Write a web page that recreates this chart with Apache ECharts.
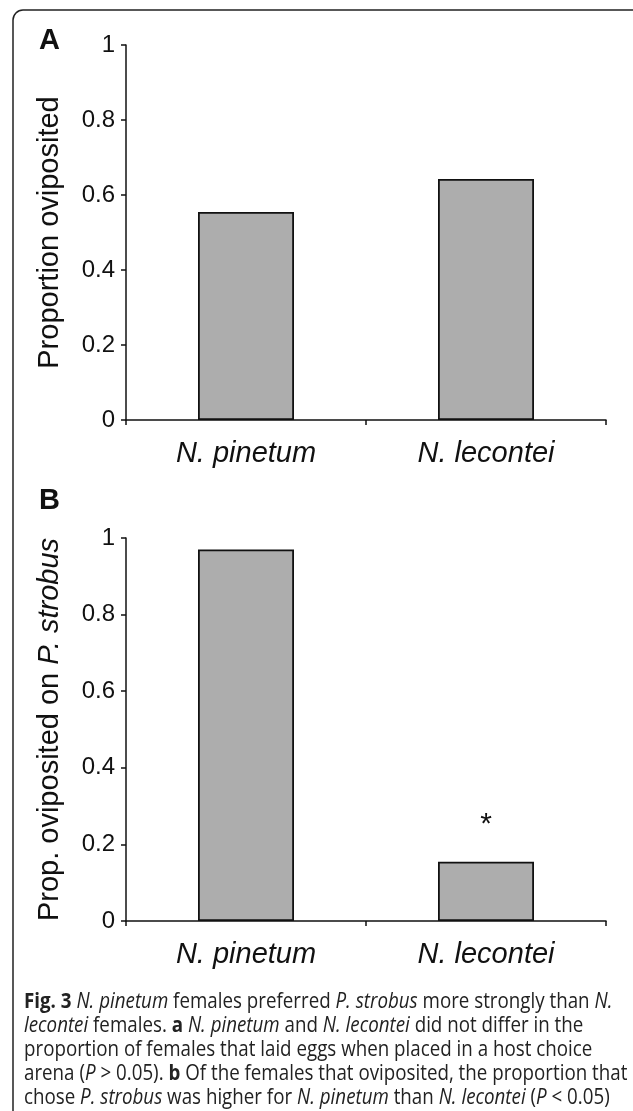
<!DOCTYPE html>
<html>
<head>
<meta charset="utf-8">
<script src="https://cdn.jsdelivr.net/npm/echarts@6/dist/echarts.min.js"></script>
<style>
  html, body { margin: 0; padding: 0; background: #fff; }
  #main { width: 633px; height: 1111px; }
</style>
</head>
<body>
<div id="main"></div>
<script>
var species = ['N. pinetum', 'N. lecontei'];
var propOviposited = [0.555, 0.643];
var propOnStrobus = [0.97, 0.155];
var sigB = ['', '*'];
var yTicks = [0, 0.2, 0.4, 0.6, 0.8, 1];

var captionLines = [
    '{b|Fig. 3} {i|N. pinetum} females preferred {i|P. strobus} more strongly than {i|N.}',
    '{i|lecontei} females. {b|a} {i|N. pinetum} and {i|N. lecontei} did not differ in the',
    'proportion of females that laid eggs when placed in a host choice',
    'arena ({i|P} > 0.05). {b|b} Of the females that oviposited, the proportion that',
    'chose {i|P. strobus} was higher for {i|N. pinetum} than {i|N. lecontei} ({i|P} < 0.05)'
];

var dom = document.getElementById('main');
var myChart = echarts.init(dom);

var font = 'Liberation Sans, Arial, sans-serif';

function xAxisFor(gridIndex) {
    return {
        type: 'category',
        gridIndex: gridIndex,
        data: species,
        axisLine: { lineStyle: { color: '#111', width: 1.5 } },
        axisTick: { show: true, length: 5, alignWithLabel: false, lineStyle: { color: '#111', width: 1.5 } },
        axisLabel: { color: '#111', fontSize: 29, fontStyle: 'italic', fontFamily: font, margin: 19 }
    };
}

function yAxisFor(gridIndex, name) {
    return {
        type: 'value',
        gridIndex: gridIndex,
        min: 0,
        max: 1,
        interval: 0.2,
        name: name,
        nameLocation: 'middle',
        nameRotate: 90,
        nameGap: 62,
        nameTextStyle: {
            color: '#111', fontSize: 29, fontFamily: font,
            rich: { i: { fontStyle: 'italic', fontSize: 29, fontFamily: font, color: '#111' } }
        },
        splitLine: { show: false },
        axisLine: { show: true, lineStyle: { color: '#111', width: 1.5 } },
        axisTick: { show: true, length: 5, lineStyle: { color: '#111', width: 1.5 } },
        axisLabel: {
            color: '#111', fontSize: 24, fontFamily: font, margin: 11,
            formatter: function (v) {
                var r = Math.round(v * 10) / 10;
                return yTicks.indexOf(r) >= 0 ? String(r) : '';
            }
        }
    };
}

var barStyle = { color: '#adadad', borderColor: '#111', borderWidth: 1.8 };

var captionGraphics = captionLines.map(function (line, i) {
    return {
        type: 'text',
        left: 24,
        top: 992 + i * 24,
        scaleX: 0.893,
        style: {
            text: line,
            fill: '#222',
            font: '21px "Open Sans", sans-serif',
            rich: {
                b: { fontWeight: 'bold', fontSize: 21, fontFamily: 'Open Sans', fill: '#222' },
                i: { fontStyle: 'italic', fontSize: 21, fontFamily: 'Open Sans', fill: '#222' }
            }
        }
    };
});

var option = {
    backgroundColor: '#fff',
    animation: false,
    grid: [
        { left: 126, top: 45, width: 480, height: 375 },
        { left: 126, top: 538, width: 480, height: 383 }
    ],
    xAxis: [xAxisFor(0), xAxisFor(1)],
    yAxis: [
        yAxisFor(0, 'Proportion oviposited'),
        yAxisFor(1, 'Prop. oviposited on {i|P. strobus}')
    ],
    series: [
        {
            type: 'bar',
            xAxisIndex: 0,
            yAxisIndex: 0,
            barWidth: '40%',
            data: propOviposited,
            itemStyle: barStyle
        },
        {
            type: 'bar',
            xAxisIndex: 1,
            yAxisIndex: 1,
            barWidth: '40%',
            data: propOnStrobus.map(function (v, i) {
                return {
                    value: v,
                    label: {
                        show: sigB[i] !== '',
                        position: 'top',
                        distance: 22,
                        formatter: sigB[i],
                        fontSize: 30,
                        color: '#111',
                        fontFamily: font
                    }
                };
            }),
            itemStyle: barStyle
        }
    ],
    graphic: [
        {
            type: 'rect',
            shape: { x: 13, y: 10, width: 650, height: 1130, r: 10 },
            style: { fill: 'none', stroke: '#222', lineWidth: 1.5 },
            silent: true
        },
        {
            type: 'text', left: 39, top: 26,
            style: { text: 'A', fill: '#111', font: 'bold 29px Liberation Sans, Arial, sans-serif' }
        },
        {
            type: 'text', left: 39, top: 486,
            style: { text: 'B', fill: '#111', font: 'bold 29px Liberation Sans, Arial, sans-serif' }
        }
    ].concat(captionGraphics)
};

if (option && typeof option === 'object') {
    myChart.setOption(option);
}
</script>
</body>
</html>
